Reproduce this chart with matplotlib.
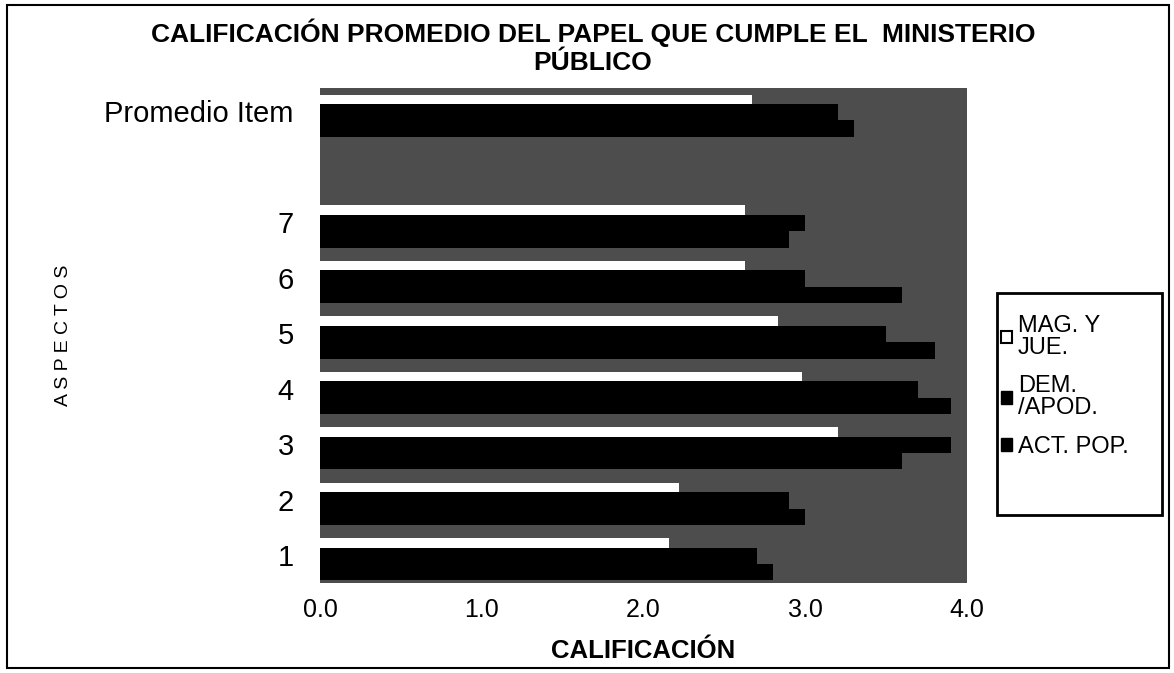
import numpy as np
import matplotlib.pyplot as plt
from matplotlib.patches import Patch, Rectangle

plt.rcParams['font.family'] = ['Liberation Sans', 'DejaVu Sans']

# categories bottom to top, one empty slot before the average row
aspectos = ['1', '2', '3', '4', '5', '6', '7', '', 'Promedio Item']
mag_jue = [2.16, 2.22, 3.20, 2.98, 2.83, 2.63, 2.63, np.nan, 2.67]
dem_apod = [2.7, 2.9, 3.9, 3.7, 3.5, 3.0, 3.0, np.nan, 3.2]
act_pop = [2.8, 3.0, 3.6, 3.9, 3.8, 3.6, 2.9, np.nan, 3.3]
series_names = ['MAG. Y\nJUE.', 'DEM.\n/APOD.', 'ACT. POP.']

fig = plt.figure(figsize=(11.74, 6.73), dpi=100)
ax = fig.add_axes([0.2726, 0.134, 0.551, 0.735])
ax.set_facecolor('#4d4d4d')

pos = np.arange(1, len(aspectos) + 1)
ax.barh(pos + 0.22, mag_jue, height=0.17, color='white')
ax.barh(pos - 0.0125, dem_apod, height=0.295, color='black')
ax.barh(pos - 0.3075, act_pop, height=0.295, color='black')

ax.set_xlim(0, 4)
ax.set_ylim(0.5, 9.42)
ax.set_xticks([0, 1, 2, 3, 4])
ax.set_xticklabels(['0.0', '1.0', '2.0', '3.0', '4.0'], fontsize=18)
ax.set_yticks(pos)
ax.set_yticklabels(aspectos, fontsize=21)
ax.tick_params(length=0)
ax.tick_params(axis='y', pad=19)
ax.tick_params(axis='x', pad=11)
for s in ax.spines.values():
    s.set_visible(False)

ax.set_xlabel('CALIFICACIÓN', fontsize=18.5, fontweight='bold', labelpad=12)
ax.set_ylabel('A S P E C T O S', fontsize=14)
ax.yaxis.set_label_coords(-0.383, 0.5)

fig.text(0.505, 0.930, 'CALIFICACIÓN PROMEDIO DEL PAPEL QUE CUMPLE EL  MINISTERIO\nPÚBLICO',
         ha='center', va='center', fontsize=19, fontweight='bold', linespacing=1.2)

handles = [Patch(facecolor='white', edgecolor='black', linewidth=1.5),
           Patch(facecolor='black', edgecolor='black'),
           Patch(facecolor='black', edgecolor='black')]
leg = fig.legend(handles, series_names, loc='upper left', bbox_to_anchor=(0.853, 0.532),
                 fontsize=17, frameon=False,
                 handlelength=0.45, handleheight=0.45, handletextpad=0.25,
                 labelspacing=0.7, borderpad=0, borderaxespad=0)
for t in leg.get_texts():
    t.set_linespacing(1.0)

# legend frame, taller than its entries
fig.patches.append(Rectangle((997 / 1174, 1 - 515 / 673), 165 / 1174, 222 / 673,
                             transform=fig.transFigure, fill=False,
                             edgecolor='black', linewidth=2))

# outer frame of the figure
fig.patches.append(Rectangle((0.006, 0.008), 0.99, 0.985, transform=fig.transFigure,
                             fill=False, edgecolor='black', linewidth=1.5))

fig.savefig('out.png', dpi=100)
